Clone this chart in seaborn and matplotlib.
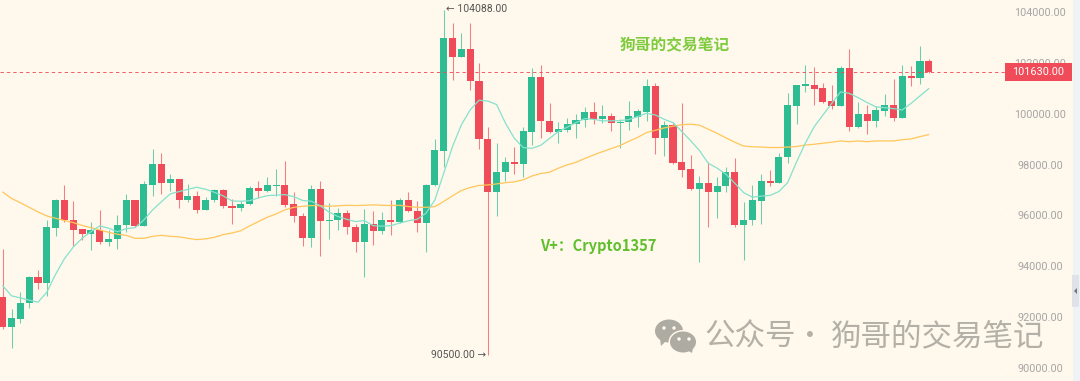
import numpy as np
import pandas as pd
import matplotlib
matplotlib.use('Agg')
import matplotlib.pyplot as plt
from matplotlib.patches import Ellipse, Polygon, Rectangle
from matplotlib.transforms import IdentityTransform
import seaborn as sns

opens = [92810, 91630, 91930, 92550, 93580, 93330, 95520, 96620, 95840, 95460,
         95270, 95420, 94970, 95080, 95610, 96600, 95590, 97210, 98020, 97290,
         97450, 96610, 96770, 96220, 96610, 97000, 96390, 96310, 96440, 97090,
         96980, 97160, 97180, 96460, 95980, 95110, 97030, 95790, 95830, 96090,
         95540, 94970, 95670, 95380, 95840, 95760, 96590, 96180, 95720, 97190,
         98550, 102970, 102230, 102550, 101290, 99000, 96910, 97700, 98120, 98040,
         99300, 101430, 99730, 99270, 99360, 99610, 99740, 100070, 99810, 99930,
         99650, 99680, 99870, 100080, 101090, 99060, 99560, 98090, 97820, 97040,
         97270, 96910, 97160, 97710, 95620, 95830, 96570, 97370, 97290, 98280,
         100320, 101100, 101130, 101030, 100500, 100320, 101810, 99480, 99990, 99700,
         100120, 100330, 99830, 101470, 101420, 102070]
closes = [91630, 91950, 92560, 93580, 93330, 95530, 96620, 95840, 95440, 95270,
          95420, 94970, 95090, 95630, 96600, 95570, 97240, 98020, 97290, 97430,
          96610, 96770, 96220, 96620, 97000, 96360, 96310, 96450, 97090, 96980,
          97180, 97200, 96430, 95960, 95110, 97030, 95800, 95840, 96090, 95530,
          94970, 95670, 95380, 95830, 95760, 96590, 96170, 95720, 97200, 98580,
          102970, 102230, 102550, 101290, 99000, 96910, 97700, 98120, 98040, 99310,
          101430, 99720, 99270, 99390, 99610, 99770, 100070, 99790, 99930, 99650,
          99690, 99900, 100100, 101090, 99060, 99560, 98070, 97800, 97040, 97270,
          96910, 97160, 97710, 95620, 95840, 96590, 97370, 97290, 98300, 100340,
          101130, 101170, 100990, 100480, 100320, 101810, 99480, 99990, 99700, 100140,
          100330, 99850, 101470, 101410, 102070, 101630]
highs = [94670, 92340, 93010, 93620, 93860, 95820, 96650, 97200, 96570, 95460,
         95760, 96220, 95430, 96020, 96850, 96620, 97360, 98610, 98440, 97620,
         97450, 97230, 96960, 96710, 97030, 97030, 96650, 96580, 97160, 97370,
         97520, 97830, 98130, 96910, 96090, 97200, 97350, 96480, 96300, 96220,
         95670, 96250, 96170, 96130, 96610, 96700, 96940, 96560, 97240, 99000,
         104088, 103560, 103180, 103560, 102010, 99480, 98840, 98290, 98710, 99480,
         101790, 101900, 100440, 99660, 99820, 99980, 100270, 100450, 100330, 100040,
         99790, 100500, 100200, 101350, 101220, 99730, 99690, 100410, 98390, 97550,
         98120, 97500, 97920, 98250, 96510, 97190, 97620, 97790, 98470, 100800,
         101130, 101900, 101840, 101200, 101130, 101880, 102550, 100480, 100340, 100310,
         100790, 101370, 101900, 101880, 102660, 102140]
lows = [91540, 90770, 91790, 92350, 93100, 92850, 95180, 95730, 94810, 95040,
        94630, 94890, 94810, 94700, 95360, 95560, 95570, 96780, 96850, 96980,
        96310, 96540, 96090, 96220, 96540, 96310, 95680, 96190, 96420, 96670,
        96940, 96780, 96340, 95750, 94800, 94770, 94390, 95090, 95410, 95260,
        94580, 93570, 94840, 95260, 95220, 95720, 96140, 95340, 94580, 97160,
        97900, 101330, 102220, 100940, 98620, 90500, 95980, 97360, 97620, 97520,
        98770, 99050, 99260, 98850, 99270, 99050, 99470, 99600, 99640, 99340,
        98660, 99360, 99480, 99730, 98430, 98330, 98040, 97500, 97020, 94160,
        95560, 95890, 96940, 95560, 94250, 95620, 95660, 97170, 97280, 98070,
        99610, 100870, 100330, 100410, 100170, 100300, 99320, 99450, 99210, 99490,
        99900, 99700, 99820, 101100, 101160, 101620]
ma_short = [93240, 92840, 92760, 92670, 92590, 92980, 93690, 94300, 94760, 95100,
            95360, 95590, 95500, 95360, 95480, 95520, 95820, 96220, 96540, 96850,
            96940, 97030, 97110, 97030, 96910, 96770, 96570, 96560, 96580, 96690,
            96780, 96800, 96820, 96740, 96590, 96560, 96380, 96130, 95960, 95850,
            95760, 95800, 95600, 95580, 95600, 95700, 95790, 95850, 96090, 96610,
            97660, 98710, 99560, 100150, 100530, 100500, 100360, 99630, 99040, 98670,
            98640, 98760, 99030, 99300, 99470, 99650, 99810, 99780, 99720, 99720,
            99730, 99770, 99890, 100020, 99950, 99780, 99650, 99300, 98940, 98550,
            98050, 97860, 97620, 97270, 96900, 96720, 96760, 96790, 96940, 97290,
            98100, 98840, 99490, 99950, 100410, 100860, 100800, 100630, 100440, 100270,
            100240, 100200, 100150, 100410, 100700, 100990]
ma_long = [96920, 96670, 96500, 96320, 96140, 95980, 95890, 95800, 95720, 95610,
           95520, 95430, 95340, 95260, 95220, 95100, 95100, 95180, 95220, 95180,
           95160, 95100, 95050, 95080, 95140, 95250, 95310, 95400, 95590, 95760,
           95930, 96060, 96220, 96320, 96360, 96390, 96380, 96360, 96380, 96400,
           96390, 96400, 96420, 96400, 96390, 96400, 96350, 96320, 96320, 96350,
           96550, 96770, 96980, 97100, 97180, 97200, 97240, 97290, 97320, 97400,
           97550, 97650, 97700, 97860, 97990, 98090, 98240, 98380, 98510, 98630,
           98750, 98920, 99070, 99260, 99350, 99440, 99510, 99570, 99590, 99550,
           99390, 99230, 99050, 98880, 98730, 98700, 98690, 98670, 98670, 98690,
           98710, 98770, 98800, 98840, 98880, 98930, 98900, 98930, 98900, 98930,
           98930, 98930, 98980, 99010, 99100, 99180]
y_ticks = [90000, 92000, 94000, 96000, 98000, 100000, 102000, 104000]
last_price = 101630
top_price = 104088
bottom_price = 90500

BG = '#FFF8EC'
GREEN = '#2EBD93'
RED = '#F04B58'
FONT = ['Roboto', 'DejaVu Sans']
CJK = ['Noto Sans CJK SC', 'DejaVu Sans']

sns.set_style('white', {'axes.facecolor': BG, 'figure.facecolor': BG})
plt.rcParams['font.family'] = FONT

df = pd.DataFrame({'open': opens, 'close': closes, 'high': highs, 'low': lows,
                   'ma_short': ma_short, 'ma_long': ma_long})
df['i'] = df.index
df['bottom'] = df[['open', 'close']].min(axis=1)
df['height'] = (df['close'] - df['open']).abs()
colors = np.where(df['close'] >= df['open'], GREEN, RED)

W, H = 1080, 381
fig = plt.figure(figsize=(W / 100, H / 100), dpi=100)
ax = fig.add_axes([0, 0, 1005 / W, 1])
fig.patch.set_facecolor(BG)

ax.vlines(df['i'], df['low'], df['high'], colors=colors, lw=0.75, alpha=0.7, zorder=2)
ax.bar(df['i'], df['height'], bottom=df['bottom'], width=0.8, color=colors,
       linewidth=0, zorder=3)

sns.lineplot(data=df, x='i', y='ma_long', ax=ax, color='#FFC75A', lw=0.9, zorder=4, errorbar=None)
sns.lineplot(data=df, x='i', y='ma_short', ax=ax, color='#84E2CD', lw=0.9, zorder=4, errorbar=None)

ax.axhline(last_price, color=RED, lw=0.7, alpha=0.9, dashes=(3.4, 3.2), zorder=5)

ax.set_xlim((0 - 2.7) / 8.82, (1005 - 2.7) / 8.82)
ax.set_ylim(89491, 104472)
ax.set_xlabel('')
ax.set_ylabel('')
ax.set_xticks([])
ax.yaxis.tick_right()
ax.set_yticks(y_ticks)
ax.set_yticklabels(['%.2f' % v for v in y_ticks], fontsize=7.8, color='#A6A6A6', ha='center')
ax.tick_params(axis='y', length=3, width=0.8, color='#FFFDF8', pad=22.5)
sns.despine(ax=ax, left=True, bottom=True, top=True, right=True)

ax.annotate('← ' + '%.2f' % top_price, xy=(50, top_price), xytext=(2, 0.5), textcoords='offset points',
            fontsize=7.5, color='#555555', va='center', ha='left', family=FONT)
ax.annotate('%.2f' % bottom_price + ' →', xy=(55, bottom_price), xytext=(-1, 0), textcoords='offset points',
            fontsize=7.5, color='#555555', va='center', ha='right', family=FONT)


def px(x, y):
    return x / W, 1 - y / H


# price tag on the axis
fig.add_artist(Rectangle(px(1005, 81), 67 / W, 18 / H, transform=fig.transFigure,
                         facecolor=RED, edgecolor='none', zorder=10))
fig.text(*px(1038.5, 72), '%.2f' % last_price, color='white', fontsize=7.8, ha='center', va='center',
         zorder=11)

# grey strip and handle on the right
fig.add_artist(Rectangle(px(1073, H), 7 / W, 1, transform=fig.transFigure,
                         facecolor='#F1F2F6', edgecolor='none', zorder=9))
fig.add_artist(Rectangle(px(1072, 307), 7 / W, 32 / H, transform=fig.transFigure,
                         facecolor='#DFE2E6', edgecolor='none', zorder=10))
fig.add_artist(Polygon([px(1077, 288), px(1077, 294), px(1074, 291)], closed=True,
                       transform=fig.transFigure, facecolor='#6F767E', edgecolor='none', zorder=11))

fig.text(*px(675, 45.5), '狗哥的交易笔记', color='#7FCB3E', fontsize=11.3, fontweight='bold',
         ha='center', va='center', family=CJK)
fig.text(*px(598, 246), 'V+：Crypto1357', color='#5FBF2C', fontsize=10.6, fontweight='bold',
         ha='center', va='center', family=CJK)
fig.text(*px(750, 337), '公众号', color='#B3B0A7', fontsize=22,
         ha='center', va='center', family=CJK)
fig.text(*px(810, 337), '·', color='#B3B0A7', fontsize=20,
         ha='center', va='center', family=CJK)
fig.text(*px(937.5, 337), '狗哥的交易笔记', color='#B3B0A7', fontsize=22,
         ha='center', va='center', family=CJK)

# wechat icon of the watermark, in figure pixels
ICON = '#AEABA2'
flip = IdentityTransform()


def ell(x, y, w, h, c, z=12):
    fig.add_artist(Ellipse((x, H - y), w, h, transform=flip, facecolor=c, edgecolor='none', zorder=z))


ell(669, 331, 28, 23, ICON)
fig.add_artist(Polygon([(660, H - 339), (666, H - 341), (661, H - 346)], closed=True, transform=flip,
                       facecolor=ICON, edgecolor='none', zorder=12))
ell(683, 342, 29, 24, BG, 13)
ell(683, 342, 26, 21, ICON, 14)
fig.add_artist(Polygon([(687, H - 350), (693, H - 348), (692, H - 353)], closed=True, transform=flip,
                       facecolor=ICON, edgecolor='none', zorder=14))
for ex, ey in [(664, 328), (674, 328), (679, 339), (689, 339)]:
    ell(ex, ey, 3.5, 3.5, BG, 15)

fig.savefig('out.png', dpi=100, facecolor=BG)
